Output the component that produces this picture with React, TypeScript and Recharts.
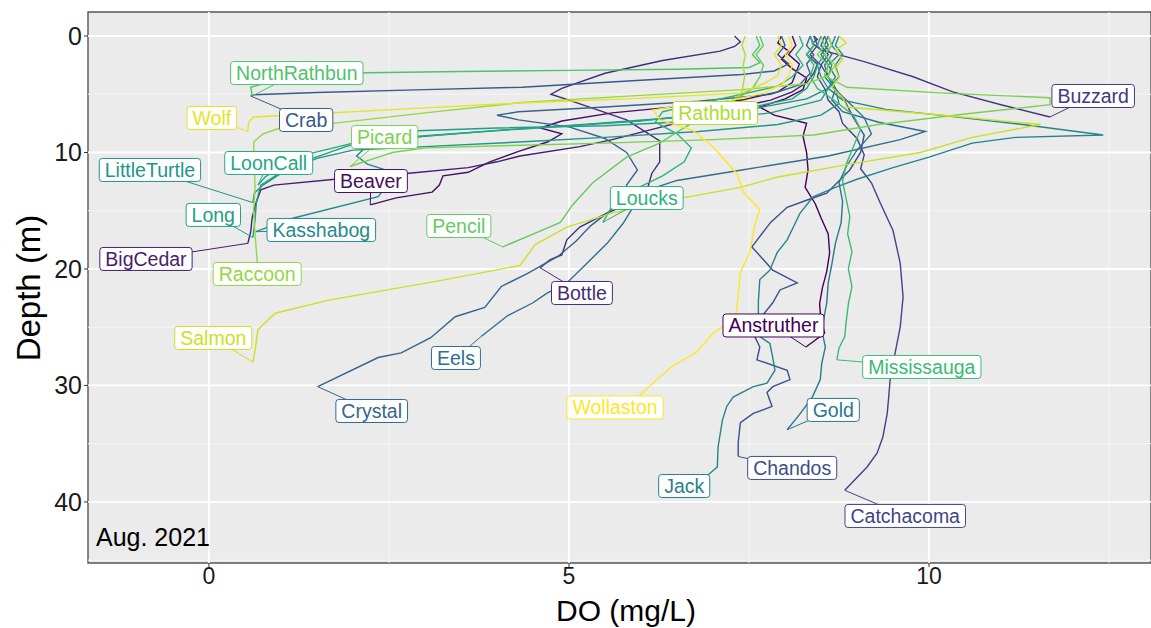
import React from 'react';
import { ScatterChart, Scatter, XAxis, YAxis, CartesianGrid, ReferenceLine, ReferenceArea, Label } from 'recharts';

// lakes in alphabetical order (this is also the viridis colour order)
const lakes = ['Anstruther', 'Beaver', 'BigCedar', 'Bottle', 'Buzzard', 'Catchacoma', 'Chandos', 'Crab', 'Crystal', 'Eels', 'Gold', 'Jack', 'Kasshabog', 'LittleTurtle', 'Long', 'LoonCall', 'Loucks', 'Mississauga', 'NorthRathbun', 'Pencil', 'Picard', 'Raccoon', 'Rathbun', 'Salmon', 'Wolf', 'Wollaston'];

// profiles, [DO (mg/L), depth (m)]
const anstruther = [[7.95,0],[7.9,0.6],[8.05,1.3],[7.95,2.0],[8.1,2.8],[8.3,3.6],[8.25,4.6],[8.0,5.4],[7.65,6.1],[7.85,6.8],[8.3,7.5],[8.25,8.6],[8.3,10.0],[8.32,11.5],[8.28,13.0],[8.42,14.4],[8.5,15.6],[8.6,17.0],[8.62,18.6],[8.58,20.2],[8.52,21.6],[8.48,23.0],[8.5,24.4],[8.55,25.5],[8.4,26.2],[8.29,26.7]];
const beaver = [[8.1,0],[8.15,0.8],[8.05,1.6],[8.2,2.4],[8.15,3.2],[8.1,4.0],[7.9,4.8],[7.4,5.5],[6.6,6.0],[5.6,6.6],[4.9,7.3],[4.6,7.9],[4.9,8.4],[4.7,9.1],[4.3,9.9],[3.9,10.8],[3.6,11.7],[3.25,12.0],[3.2,12.8],[3.1,13.4],[2.6,13.9],[2.24,14.5]];
const bigCedar = [[8.35,0],[8.4,0.8],[8.3,1.6],[8.45,2.4],[8.4,3.2],[8.3,4.0],[8.1,4.8],[7.8,5.5],[7.3,6.2],[6.8,7.0],[6.17,8.0],[5.6,8.9],[5.15,9.5],[4.32,10.3],[4.0,10.8],[3.6,11.3],[2.74,11.8],[1.75,12.3],[0.9,12.8],[0.72,13.2],[0.65,14.4],[0.6,15.6],[0.58,16.8],[0.54,17.8]];
const bottle = [[7.3,0],[7.38,0.5],[7.3,0.9],[7.1,1.3],[6.3,2.1],[5.5,3.2],[4.9,4.5],[4.75,5.0],[5.0,5.5],[5.8,7.2],[6.26,9.0],[6.26,10.8],[6.15,11.8],[6.1,12.9],[5.9,14.2],[5.5,15.3],[5.15,16.4],[4.97,17.5],[4.9,18.8],[4.74,19.2],[4.6,19.9]];
const buzzard = [[8.4,0],[8.45,0.3],[8.38,0.6],[8.5,1.2],[9.1,2.2],[9.78,3.5],[10.33,4.8],[11.0,5.9],[11.68,6.95]];
const catchacoma = [[8.4,0],[8.45,0.8],[8.35,1.6],[8.5,2.5],[8.45,3.5],[8.55,4.5],[8.6,5.5],[8.75,6.5],[8.8,7.5],[9.0,8.8],[9.1,10.2],[9.05,11.4],[9.2,12.6],[9.32,14.3],[9.5,16.7],[9.6,19.5],[9.64,22.4],[9.6,25.0],[9.52,27.5],[9.46,29.5],[9.44,31.0],[9.42,32.4],[9.36,34.4],[9.28,35.8],[9.14,37.0],[8.83,39.0]];
const chandos = [[8.55,0],[8.5,0.8],[8.6,1.6],[8.5,2.5],[8.6,3.5],[8.7,4.5],[8.85,5.8],[8.95,7.0],[9.1,8.5],[9.05,10.0],[8.9,11.5],[8.58,13.5],[8.3,14.1],[8.03,14.7],[7.8,16.0],[7.54,18.1],[7.83,20.1],[8.17,21.2],[7.93,21.8],[7.83,22.9],[7.62,24.5],[7.58,25.8],[7.65,26.7],[7.61,27.8],[8.03,28.7],[8.07,29.5],[7.83,30.1],[7.75,30.6],[7.82,31.8],[7.56,32.4],[7.38,33.2],[7.35,34.9],[7.35,36.1]];
const crab = [[7.95,0],[8.0,0.8],[7.9,1.6],[8.05,2.4],[7.85,3.0],[7.4,3.3],[6.0,3.8],[4.35,4.4],[3.0,4.6],[1.5,4.85],[0.62,5.05],[0.58,5.15]];
const crystal = [[8.35,0],[8.3,0.8],[8.4,1.6],[8.3,2.4],[8.35,3.2],[8.2,4.2],[7.8,5.0],[6.8,5.6],[5.5,6.1],[4.3,6.5],[4.0,6.8],[4.3,7.2],[5.0,7.8],[5.5,8.8],[5.8,10.0],[5.95,11.5],[5.8,12.8],[5.75,13.9],[5.55,15.1],[5.3,16.3],[5.1,17.6],[4.85,18.9],[4.42,20.4],[4.06,21.5],[3.83,23.3],[3.42,24.1],[3.08,25.9],[2.67,27.2],[2.35,27.6],[1.51,30.1]];
const eels = [[8.6,0],[8.55,0.8],[8.65,1.6],[8.55,2.5],[8.6,3.5],[8.7,4.5],[8.65,5.5],[8.8,6.5],[9.3,7.4],[9.95,8.2],[9.6,8.9],[8.6,10.3],[7.4,11.5],[6.5,12.4],[6.1,13.2],[5.89,14.7],[5.75,16.1],[5.53,17.8],[5.25,19.5],[4.97,21.2],[4.69,22.1],[4.5,22.9],[4.15,24.0],[3.78,25.8]];
const gold = [[8.55,0],[8.6,0.8],[8.5,1.6],[8.6,2.5],[8.55,3.5],[8.7,4.6],[8.9,5.8],[9.1,7.0],[9.2,8.4],[9.0,9.8],[8.85,11.2],[8.75,12.6],[8.8,14.2],[8.78,16.0],[8.7,17.8],[8.65,19.6],[8.6,21.2],[8.58,22.9],[8.51,25.2],[8.56,26.7],[8.51,28.1],[8.49,29.5],[8.38,31.0],[8.2,32.5],[8.03,33.8]];
const jack = [[8.7,0],[8.65,0.8],[8.75,1.6],[8.6,2.5],[8.7,3.5],[8.6,4.5],[8.8,5.5],[9.4,6.3],[10.3,6.9],[11.3,7.6],[12.42,8.5],[11.2,8.7],[10.6,9.2],[10.0,10.4],[9.5,11.3],[9.0,12.3],[8.7,13.0],[8.39,13.8],[8.21,15.2],[8.03,17.5],[7.89,18.6],[7.79,20.1],[7.65,20.9],[7.63,22.8],[7.63,24.6],[7.65,25.8],[7.79,26.4],[7.83,27.6],[7.86,28.7],[7.75,29.8],[7.56,30.1],[7.28,31.0],[7.19,31.8],[7.13,33.0],[7.07,35.3],[7.06,37.0],[6.89,37.9]];
const kasshabog = [[8.75,0],[8.7,0.8],[8.8,1.6],[8.7,2.5],[8.75,3.5],[8.6,4.5],[8.3,5.4],[7.6,6.2],[6.5,7.0],[5.2,7.6],[4.0,8.1],[3.0,8.6],[2.2,9.4],[2.05,10.3],[2.2,11.0],[2.6,11.8],[2.5,12.6],[2.35,13.8],[1.19,15.6],[0.82,16.4],[0.65,16.8]];
const littleTurtle = [[8.6,0],[8.65,0.8],[8.55,1.6],[8.65,2.5],[8.6,3.5],[8.7,4.5],[8.75,5.8],[8.5,6.8],[7.9,7.6],[6.8,8.2],[5.5,8.7],[4.3,9.1],[3.0,9.5],[2.0,9.8],[1.5,10.5],[1.0,11.8],[0.75,12.8],[0.63,13.5],[0.61,14.3]];
const long = [[8.5,0],[8.45,0.8],[8.55,1.6],[8.45,2.5],[8.5,3.5],[8.6,4.5],[8.5,5.5],[7.8,6.6],[6.8,7.3],[5.5,7.7],[4.0,7.9],[2.6,8.2],[1.9,9.5],[1.3,10.8],[0.95,11.9],[0.72,12.8],[0.66,14.2],[0.64,15.8],[0.61,17.3]];
const loonCall = [[8.35,0],[8.4,0.8],[8.3,1.6],[8.45,2.5],[8.4,3.5],[8.3,4.5],[8.1,5.4],[7.3,6.4],[6.0,7.3],[4.3,8.0],[2.9,8.6],[2.0,9.2],[1.4,10.1],[1.0,11.2],[0.78,12.1],[0.68,12.8]];
const loucks = [[8.2,0],[8.25,0.8],[8.15,1.6],[8.25,2.5],[8.1,3.5],[7.9,4.3],[7.4,5.0],[6.8,5.8],[6.3,6.5],[6.2,7.4],[6.5,8.4],[6.7,9.6],[6.6,10.8],[6.3,12.0],[5.9,13.2],[5.6,14.6],[5.47,16.0]];
const mississauga = [[8.35,0],[8.4,0.8],[8.3,1.6],[8.4,2.5],[8.35,3.5],[8.45,4.5],[8.7,5.6],[8.95,6.8],[9.05,8.0],[8.95,9.5],[8.85,11.0],[8.8,12.5],[8.85,14.0],[8.9,15.5],[8.87,17.0],[8.93,18.5],[8.88,20.0],[8.93,21.5],[8.88,23.0],[8.85,24.5],[8.83,25.8],[8.75,26.8],[8.72,27.8]];
const northRathbun = [[7.6,0],[7.65,0.8],[7.55,1.6],[7.65,2.3],[7.5,2.7],[6.5,2.85],[5.0,2.95],[3.5,3.05],[2.2,3.15],[1.2,3.3],[0.7,4.2],[0.58,4.4],[0.6,5.15]];
const pencil = [[7.65,0],[7.7,0.8],[7.6,1.6],[7.7,2.5],[7.65,3.5],[7.55,4.5],[7.3,5.5],[6.95,6.6],[6.54,8.1],[6.26,9.2],[5.8,10.4],[5.33,12.6],[5.05,14.5],[4.88,16.0],[4.5,17.0],[4.08,18.1]];
const picard = [[8.5,0],[8.55,0.8],[8.45,1.6],[8.6,2.5],[8.55,3.4],[8.86,4.4],[10.2,4.9],[11.68,5.3],[11.68,5.9],[10.5,6.7],[9.3,7.6],[8.4,8.5],[7.0,8.9],[5.5,9.2],[4.2,9.4],[3.0,9.6],[2.55,10.0],[2.3,10.5],[2.1,10.9],[1.96,11.2]];
const raccoon = [[8.6,0],[8.65,0.8],[8.55,1.6],[8.7,2.5],[8.6,3.4],[8.3,4.1],[7.4,4.6],[6.0,5.1],[4.35,5.7],[3.0,6.6],[1.72,7.5],[0.99,7.9],[0.75,8.4],[0.62,9.1],[0.63,11],[0.64,13],[0.62,15],[0.64,17],[0.67,19.4]];
const rathbun = [[7.45,0],[7.4,0.8],[7.45,1.6],[7.42,2.5],[7.44,3.4],[7.42,4.2],[7.4,4.9]];
const salmon = [[8.75,0],[8.85,0.6],[8.7,1.2],[8.8,2.0],[8.7,2.8],[8.75,3.6],[8.65,4.4],[8.8,5.3],[8.86,6.1],[10.2,6.8],[11.55,7.6],[10.6,8.7],[9.88,10.0],[8.9,11.0],[7.9,12.1],[7.38,13.0],[6.58,13.9],[5.6,15.2],[4.97,16.4],[4.53,17.9],[4.32,19.7],[3.21,21.0],[1.65,22.7],[0.92,23.8],[0.68,25.2],[0.64,27.0],[0.61,28.0]];
const wolf = [[7.9,0],[7.95,0.8],[7.85,1.6],[7.95,2.5],[7.9,3.4],[7.7,4.1],[7.38,4.9],[5.8,5.4],[4.32,5.75],[2.6,6.3],[1.4,6.7],[0.62,6.95],[0.55,7.4],[0.54,8.2]];
const wollaston = [[8.05,0],[8.1,0.8],[8.0,1.6],[8.1,2.5],[8.05,3.4],[7.95,4.2],[7.7,4.9],[7.2,5.6],[6.5,6.0],[6.17,6.35],[6.26,7.2],[6.72,8.1],[7.0,9.5],[7.33,11.8],[7.42,13.4],[7.65,14.9],[7.58,16.2],[7.51,18.6],[7.38,20.3],[7.33,23.5],[7.3,24.3],[7.0,25.5],[6.78,27.1],[6.4,28.5],[5.99,30.8]];

const profiles = [anstruther, beaver, bigCedar, bottle, buzzard, catchacoma, chandos, crab, crystal, eels, gold, jack, kasshabog, littleTurtle, long, loonCall, loucks, mississauga, northRathbun, pencil, picard, raccoon, rathbun, salmon, wolf, wollaston];

// repelled label centres (same order as lakes)
const labelDO = [7.84, 2.25, -0.875, 5.18, 12.28, 9.67, 8.1, 1.35, 2.26, 3.43, 8.67, 6.6, 1.56, -0.82, 0.06, 0.83, 6.08, 9.9, 1.22, 3.47, 2.44, 0.67, 7.03, 0.06, 0.04, 5.64];
const labelDepth = [24.85, 12.45, 19.14, 22.06, 5.15, 41.2, 37.08, 7.21, 32.19, 27.64, 32.1, 38.63, 16.65, 11.5, 15.36, 10.9, 13.91, 28.41, 3.18, 16.31, 8.67, 20.43, 6.61, 25.92, 7.04, 31.89];

const xTicks = [0, 5, 10];
const yTicks = [0, 10, 20, 30, 40];
const xMinor = [2.5, 7.5, 12.5];
const yMinor = [5, 15, 25, 35, 45];
const xDomain = [-1.68, 13.083];
const yDomain = [-2.06, 45.24];

const FONT = '"Liberation Sans", Arial, sans-serif';

const VIRIDIS = ['#440154', '#482576', '#414487', '#35608D', '#2A788E', '#21908C', '#22A884', '#43BF71', '#7AD151', '#BBDF27', '#FDE725'];
const hex = (c: string) => [1, 3, 5].map(i => parseInt(c.slice(i, i + 2), 16));
function viridis(t: number) {
  const s = t * 10;
  const i = Math.min(9, Math.floor(s));
  const f = s - i;
  const a = hex(VIRIDIS[i]);
  const b = hex(VIRIDIS[i + 1]);
  const c = a.map((v, k) => Math.round(v + (b[k] - v) * f));
  return `rgb(${c[0]},${c[1]},${c[2]})`;
}
const colors = lakes.map((_, i) => viridis(i / (lakes.length - 1)));

let ctx: CanvasRenderingContext2D | null = null;
function textWidth(s: string, size: number) {
  if (!ctx) ctx = document.createElement('canvas').getContext('2d');
  if (!ctx) return s.length * size * 0.55;
  ctx.font = `${size}px ${FONT}`;
  return ctx.measureText(s).width;
}

const LakeLabel = (props: any) => {
  const { cx, cy, payload } = props;
  if (cx == null || cy == null) return <g />;
  const w = textWidth(payload.name, 19.5) + 11;
  const h = 23;
  return (
    <g>
      <rect x={cx - w / 2} y={cy - h / 2} width={w} height={h} rx={3} ry={3} fill="#fff" stroke={payload.color} strokeWidth={1} />
      <text x={cx} y={cy + 7} textAnchor="middle" fill={payload.color} fontSize={19.5} fontFamily={FONT}>{payload.name}</text>
    </g>
  );
};

const noDot = () => <g />;

export default function App() {
  const series = profiles.map(p => p.map(([x, y]) => ({ x, y })));
  return (
    <div style={{ position: 'absolute', left: 0, top: 0, width: 1151, height: 628, background: '#fff', overflow: 'hidden' }}>
      <ScatterChart width={1151} height={628} margin={{ top: 12, right: 0, bottom: 0, left: 0 }}>
        <CartesianGrid fill="#EBEBEB" stroke="none" horizontal={false} vertical={false} />
        <XAxis
          type="number" dataKey="x" domain={xDomain} ticks={xTicks} allowDataOverflow
          height={65} axisLine={false} tickSize={4} tickMargin={1} tickLine={{ stroke: '#333' }}
          tick={{ fill: '#1A1A1A', fontSize: 23, fontFamily: FONT }}
        >
          <Label content={() => (
            <text x={626} y={621} textAnchor="middle" fontSize={30} fontFamily={FONT} fill="#000">DO (mg/L)</text>
          )} />
        </XAxis>
        <YAxis
          type="number" dataKey="y" domain={yDomain} ticks={yTicks} reversed allowDataOverflow
          width={88} axisLine={false} tickSize={4} tickLine={{ stroke: '#333' }}
          tick={{ fill: '#1A1A1A', fontSize: 25, fontFamily: FONT }}
        >
          <Label content={() => (
            <text x={40} y={288} transform="rotate(-90 40 288)" textAnchor="middle" fontSize={33} fontFamily={FONT} fill="#000">Depth (m)</text>
          )} />
        </YAxis>
        {xMinor.map(v => <ReferenceLine key={`xm${v}`} x={v} stroke="#F5F5F5" strokeWidth={1} />)}
        {yMinor.map(v => <ReferenceLine key={`ym${v}`} y={v} stroke="#F5F5F5" strokeWidth={1} />)}
        {xTicks.map(v => <ReferenceLine key={`xM${v}`} x={v} stroke="#FFFFFF" strokeWidth={1.8} />)}
        {yTicks.map(v => <ReferenceLine key={`yM${v}`} y={v} stroke="#FFFFFF" strokeWidth={1.8} />)}
        {series.map((d, i) => (
          <Scatter key={lakes[i]} data={d} fill={colors[i]} line={{ stroke: colors[i], strokeWidth: 1.4 }} lineType="joint" shape={noDot} isAnimationActive={false} />
        ))}
        {series.map((d, i) => {
          const end = d[d.length - 1];
          const seg = [{ x: end.x, y: end.y }, { x: labelDO[i], y: labelDepth[i] }];
          return <Scatter key={`seg${i}`} data={seg} fill={colors[i]} line={{ stroke: colors[i], strokeWidth: 1 }} lineType="joint" shape={noDot} isAnimationActive={false} />;
        })}
        {lakes.map((name, i) => (
          <Scatter key={`lab${i}`} data={[{ x: labelDO[i], y: labelDepth[i], name, color: colors[i] }]} fill={colors[i]} shape={LakeLabel} isAnimationActive={false} />
        ))}
        <ReferenceArea x1={xDomain[0]} x2={xDomain[1]} y1={yDomain[0]} y2={yDomain[1]} fill="none" fillOpacity={0} stroke="#555" strokeWidth={1.4} />
      </ScatterChart>
      <div style={{ position: 'absolute', left: 96, top: 525, fontSize: 25, lineHeight: '25px', fontFamily: FONT, color: '#000' }}>Aug. 2021</div>
    </div>
  );
}
